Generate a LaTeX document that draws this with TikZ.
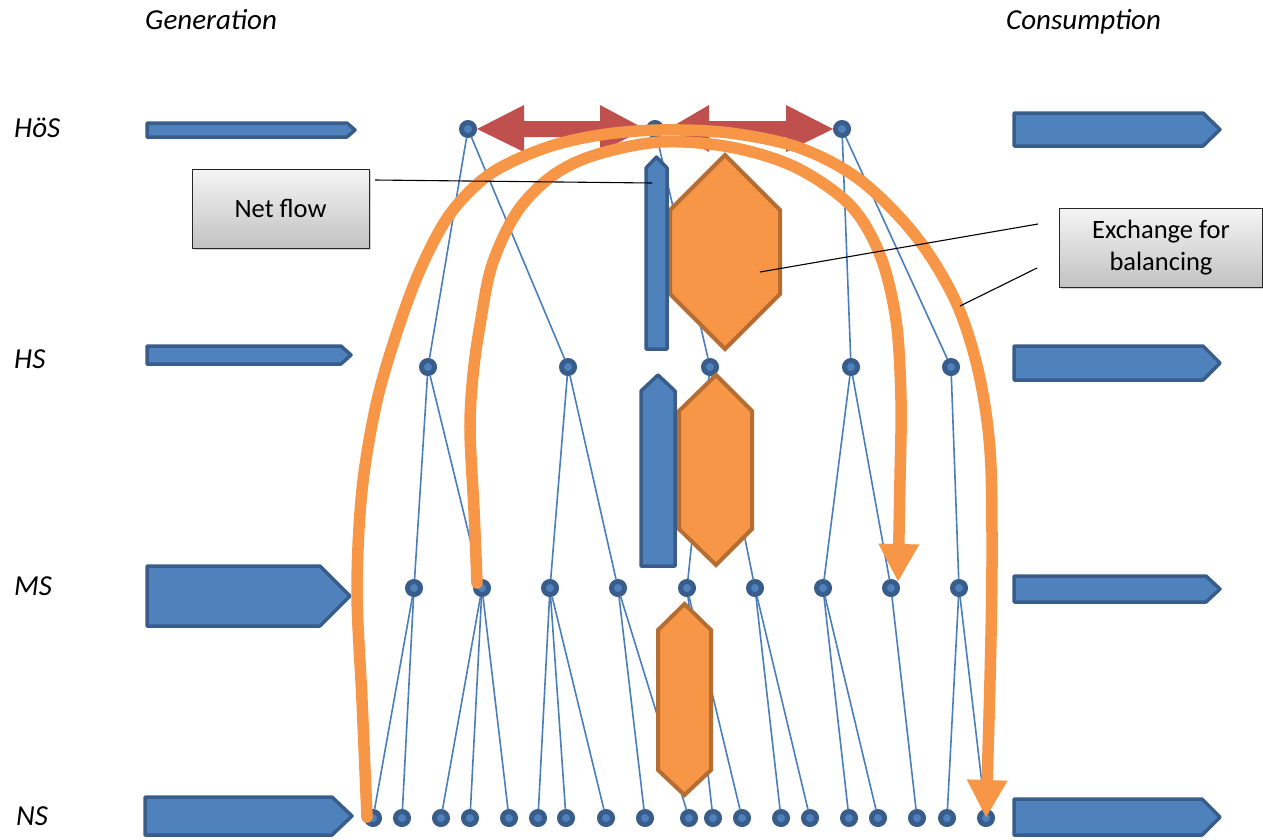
\documentclass[tikz,border=0pt]{standalone}
\usepackage{fontspec}
\setmainfont{Carlito}
\usetikzlibrary{arrows.meta,shadows,calc}
\definecolor{nodeout}{HTML}{385D8A}
\definecolor{nodein}{HTML}{4F81BD}
\definecolor{treeline}{HTML}{4A7EBB}
\definecolor{orng}{HTML}{F79646}
\definecolor{orngdark}{HTML}{B66D31}
\definecolor{redarrow}{HTML}{C0504D}
\tikzset{
  bus/.style={circle, fill=nodein, draw=nodeout, line width=5pt, minimum size=13pt, inner sep=0pt},
  tree/.style={draw=treeline, line width=1.6pt},
  blockarrow/.style={fill=nodein, draw=nodeout, line width=3.5pt, line join=round},
  exchg/.style={fill=redarrow},
  hexa/.style={fill=orng, draw=orngdark, line width=4pt},
  netbar/.style={fill=nodein, draw=nodeout, line width=3.5pt, line join=round},
  orngarrow/.style={draw=orng, line width=11.5pt, line cap=round, -{Triangle[length=38pt,width=38pt]}},
  lbl/.style={font=\fontsize{29}{34}\selectfont\itshape, inner sep=0pt},
  callout/.style={draw=black!85, line width=0.9pt, top color=white!96!black, bottom color=black!24,
    font=\fontsize{26.5}{32}\selectfont, align=center, inner sep=0pt,
    drop shadow={shadow xshift=1.5pt, shadow yshift=-2pt, opacity=0.35}},
  callline/.style={draw=black, line width=1.1pt}
}
\begin{document}
\begin{tikzpicture}[x=1pt,y=-1pt]
\useasboundingbox (0,0) rectangle (1263,839);

% labels
\node[lbl, anchor=base west] (lgen) at (145,29.5) {Generation};
\node[lbl, anchor=base west] (lcon) at (1006,29.5) {Consumption};
\node[lbl, anchor=base west] (lhos) at (14,137.5) {HöS};
\node[lbl, anchor=base west] (lhs) at (14,368.5) {HS};
\node[lbl, anchor=base west] (lms) at (14,595.5) {MS};
\node[lbl, anchor=base west] (lns) at (16,825.5) {NS};

% bus nodes
\foreach \n/\x in {h1/468,h2/655,h3/842}
  \node[bus] (\n) at (\x,129) {};
\foreach \n/\x in {s1/428,s2/568,s3/710,s4/851,s5/951}
  \node[bus] (\n) at (\x,367) {};
\foreach \n/\x in {m1/414,m2/482,m3/550,m4/618,m5/687,m6/755,m7/823,m8/891,m9/959}
  \node[bus] (\n) at (\x,588) {};
\foreach \n/\x in {n1/373,n2/402,n3/441,n4/470,n5/509,n6/538,n7/566,n8/606,n9/645,n10/689,n11/713,n12/742,n13/781,n14/810,n15/849,n16/878,n17/917,n18/947,n19/986}
  \node[bus] (\n) at (\x,818) {};

% tree edges
\foreach \a/\b in {h1/s1,h1/s2,h2/s3,h3/s4,h3/s5,
  s1/m1,s1/m2,s2/m3,s2/m4,s3/m5,s3/m6,s4/m7,s4/m8,s5/m9,
  m1/n1,m1/n2,m2/n3,m2/n4,m2/n5,m3/n6,m3/n7,m3/n8,m4/n9,m4/n10,m5/n11,m5/n12,
  m6/n13,m6/n14,m7/n15,m7/n16,m8/n17,m9/n18,m9/n19}
  \draw[tree] (\a) -- (\b);

% generation arrows (left)
\draw[blockarrow] (147,123) -- (347,123) -- (355,130) -- (347,137) -- (147,137) -- cycle;
\draw[blockarrow] (147,346) -- (341,346) -- (351,355) -- (341,364) -- (147,364) -- cycle;
\draw[blockarrow] (147,566) -- (320,566) -- (350,596) -- (320,626) -- (147,626) -- cycle;
\draw[blockarrow] (145,797) -- (332,797) -- (352,816) -- (332,835) -- (145,835) -- cycle;

% consumption arrows (right)
\draw[blockarrow] (1014,113) -- (1203,113) -- (1220,129.5) -- (1203,146) -- (1014,146) -- cycle;
\draw[blockarrow] (1014,346) -- (1203,346) -- (1220,363) -- (1203,380) -- (1014,380) -- cycle;
\draw[blockarrow] (1014,576) -- (1206,576) -- (1220,589) -- (1206,602) -- (1014,602) -- cycle;
\draw[blockarrow] (1014,799) -- (1202,799) -- (1220,817) -- (1202,835) -- (1014,835) -- cycle;

% red exchange arrows
\fill[exchg] (477,129) -- (524,105) -- (524,121) -- (600,121) -- (600,105) -- (645,129)
  -- (600,152) -- (600,137) -- (524,137) -- (524,152) -- cycle;
\fill[exchg] (668,129) -- (709,105) -- (709,121) -- (786,121) -- (786,105) -- (833,129)
  -- (786,152) -- (786,137) -- (709,137) -- (709,152) -- cycle;

% hexagons
\draw[hexa] (725,155) -- (780,210) -- (780,294) -- (725,349) -- (670,294) -- (670,210) -- cycle;
\draw[hexa] (716,375) -- (752,411) -- (752,529) -- (716,565) -- (679,529) -- (679,411) -- cycle;
\draw[hexa] (684.5,604) -- (711,630) -- (711,770) -- (684.5,795) -- (658,770) -- (658,630) -- cycle;

% net flow bars
\draw[netbar] (646,349) -- (646,168) -- (656.5,157) -- (667,168) -- (667,349) -- cycle;
\draw[netbar] (641,566) -- (641,391) -- (658,375) -- (675,391) -- (675,566) -- cycle;

% orange balancing arrows
\draw[orngarrow] plot[smooth, tension=0.55] coordinates {($(n1)+(-6,-1)$) (362,700) (357,590) (362,490) (376,405) (396,335) (420,270) (450,214) (490,174) (545,148) (600,135) (660,130) (730,133) (800,148) (860,180) (915,235) (955,300) (978,370) (990,450) (992,560) (990,680) (n19)};
\draw[orngarrow] plot[smooth, tension=0.55] coordinates {($(m2)+(-5,-5)$) (474,510) (470,430) (473,375) (480,325) (492,265) (517,212) (552,176) (595,155) (660,142) (730,147) (795,167) (850,205) (880,255) (896,320) (901,400) (900,480) ($(m8)+(7,-6)$)};

% callouts
\node[callout, minimum width=177pt, minimum height=79pt] (nf) at (280.5,208.5) {Net flow};
\node[callout, minimum width=203pt, minimum height=79pt] (ex) at (1161,247.5) {Exchange for\\balancing};
\coordinate (nfa) at (375,180);
\coordinate (nfb) at (652,183);
\coordinate (exa) at (1038,224);
\coordinate (exb) at (760,272);
\coordinate (exc) at (1037,268);
\coordinate (exd) at (960,306);
\draw[callline] (nfa) -- (nfb);
\draw[callline] (exa) -- (exb);
\draw[callline] (exc) -- (exd);
\end{tikzpicture}
\end{document}
